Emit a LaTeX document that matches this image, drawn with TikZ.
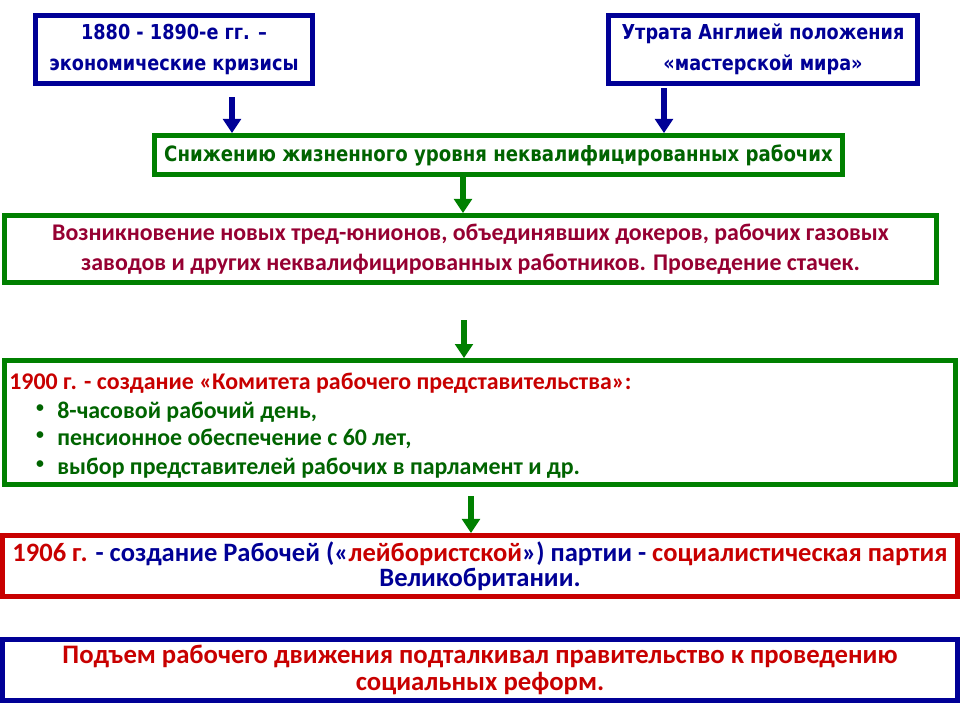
\documentclass[tikz,border=0pt]{standalone}
\usepackage{fontspec}
\setmainfont{Carlito}
\newfontfamily\tahfont[FakeStretch=0.86]{DejaVu Sans}
\usetikzlibrary{arrows.meta}

\definecolor{navy}{RGB}{0,0,150}
\definecolor{grn}{RGB}{0,128,0}
\definecolor{dgrn}{RGB}{0,100,0}
\definecolor{wine}{RGB}{150,0,50}
\definecolor{rd}{RGB}{200,0,0}

\tikzset{
  box/.style={draw, line width=2.8pt, fill=white, inner sep=0pt, align=center},
  bluebox/.style={box, draw=navy, text=navy, font=\tahfont\bfseries\fontsize{11.7}{17.6}\selectfont},
  greenbox/.style={box, draw=grn},
  down/.style={-{Triangle[width=10pt,length=8pt]}, line width=3.4pt},
  item/.style={inner sep=0pt, anchor=west, text=dgrn, font=\bfseries\fontsize{13.6}{16}\selectfont},
}

\begin{document}
\begin{tikzpicture}[x=0.02cm,y=-0.02cm]
\useasboundingbox (0,0) rectangle (960,720);

% causes
\node[bluebox, minimum width=5.54cm, minimum height=1.36cm] (crisis) at (174,49.5)
  {1880 - 1890-е гг. –\\экономические кризисы};
\node[bluebox, minimum width=6.18cm, minimum height=1.36cm] (workshop) at (763,49.5)
  {Утрата Англией положения\\«мастерской мира»};

\node[greenbox, minimum width=13.76cm, minimum height=0.78cm, text=dgrn,
  font=\tahfont\bfseries\fontsize{12}{15}\selectfont] (living) at (498.5,155)
  {Снижению жизненного уровня неквалифицированных рабочих};

\node[greenbox, minimum width=18.64cm, minimum height=1.34cm, text=wine,
  font=\bfseries\fontsize{13.6}{17}\selectfont] (unions) at (470.5,249)
  {Возникновение новых тред-юнионов, объединявших докеров, рабочих газовых\\
   заводов и других неквалифицированных работников. Проведение стачек.};

% 1900
\node[greenbox, minimum width=19.02cm, minimum height=2.48cm] (committee) at (480,422.5) {};
\node[item, text=rd] (title) at (9,383) {1900 г. - создание «Комитета рабочего представительства»:};
\foreach \y/\t [count=\i] in {412/{8-часовой рабочий день,}, 439/{пенсионное обеспечение с 60 лет,},
  468/{выбор представителей рабочих в парламент и др.}}
{
\node[text=dgrn, inner sep=0pt, font=\bfseries\fontsize{9}{9}\selectfont] (dot\i) at (40,\y-3) {\textbullet};
\node[item] (item\i) at (57,\y) {\t};
}

% 1906
\node[box, draw=rd, minimum width=19.1cm, minimum height=1.22cm, text=navy,
  font=\bfseries\fontsize{15.1}{14.5}\selectfont] (labour) at (480,566)
  {\textcolor{rd}{1906 г.} - создание Рабочей («\textcolor{rd}{лейбористской}») партии -
   \textcolor{rd}{социалистическая партия}\\Великобритании.};

\node[box, draw=navy, minimum width=19.1cm, minimum height=1.22cm, text=rd,
  font=\bfseries\fontsize{15.2}{15.3}\selectfont] (reform) at (480,670)
  {Подъем рабочего движения подталкивал правительство к проведению\\социальных реформ.};

% arrows
\coordinate (a1) at (232,97);
\coordinate (a2) at (664,88);
\coordinate (a3) at (463,0);
\coordinate (a4) at (464,320);
\coordinate (a5) at (471,496);
\draw[down, navy] (a1) -- (a1 |- living.north);
\draw[down, navy] (a2) -- (a2 |- living.north);
\draw[down, grn] (living.south -| a3) -- (unions.north -| a3);
\draw[down, grn] (a4) -- (a4 |- committee.north);
\draw[down, grn] (a5) -- (a5 |- labour.north);

\end{tikzpicture}
\end{document}
